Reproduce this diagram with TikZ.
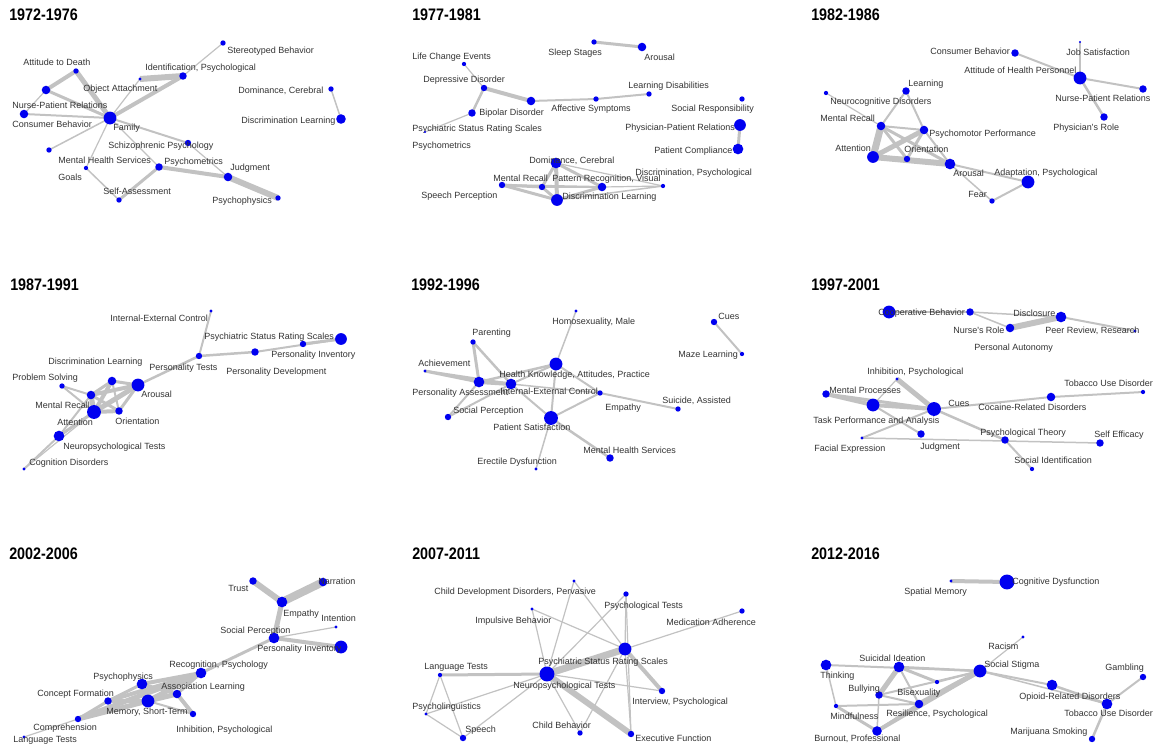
\documentclass[tikz,border=0pt]{standalone}
\usepackage{fontspec}
\newfontfamily\lblfont{Liberation Sans}
\newfontfamily\ttlfont[FakeStretch=0.86]{Liberation Sans}
\definecolor{edgegray}{HTML}{C2C2C2}
\definecolor{txtgray}{HTML}{333333}
\definecolor{dotblue}{HTML}{0000F0}
\pgfdeclarelayer{edges}
\pgfsetlayers{edges,main}
% vertex: name, x, y, radius (px), label x, label y, label text
\newcommand\vtxn[7]{%
  \node[vdot, minimum size={#4*1.6pt}] (#1) at (#2,#3) {};
  \node[vlbl] (#1-l) at (#5,#6) {#7};}
% connector: from, to, width (px)
\newcommand\cnx[3]{\draw[cn={#3}] (#1.center) -- (#2.center);}
\tikzset{
  vdot/.style={circle, fill=dotblue, draw=none, inner sep=0pt},
  vlbl/.style={anchor=west, inner sep=0pt, text=txtgray,
    font=\lblfont\fontsize{6.75}{8}\selectfont, text height=4.9pt, text depth=1.4pt},
  ptitle/.style={anchor=west, inner sep=0pt, text=black,
    font=\ttlfont\bfseries\fontsize{12.5}{14}\selectfont, text height=9pt, text depth=0pt},
  cn/.style={draw=edgegray, line width={#1*0.75pt}},
}
\begin{document}
\begin{tikzpicture}[x=0.75pt, y=-0.75pt]
\useasboundingbox (0,0) rectangle (1156,746);

% ---------- titles ----------
\node[ptitle] (t1) at (9,14.5) {1972-1976};
\node[ptitle] (t2) at (412,14.5) {1977-1981};
\node[ptitle] (t3) at (811,14.5) {1982-1986};
\node[ptitle] (t4) at (10,284) {1987-1991};
\node[ptitle] (t5) at (411,284) {1992-1996};
\node[ptitle] (t6) at (811,284) {1997-2001};
\node[ptitle] (t7) at (9,553) {2002-2006};
\node[ptitle] (t8) at (412,553) {2007-2011};
\node[ptitle] (t9) at (811,553) {2012-2016};

% ---------- 1972-1976 ----------
\vtxn{aSB}{223}{43}{2.5}{227}{51}{Stereotyped Behavior}
\vtxn{aIP}{183}{76}{3.5}{145}{68}{Identification, Psychological}
\vtxn{aOA}{140}{79}{1.5}{83}{89}{Object Attachment}
\vtxn{aAD}{76}{71}{2.5}{23}{63}{Attitude to Death}
\vtxn{aNP}{46}{90}{4}{12}{106}{Nurse-Patient Relations}
\vtxn{aCB}{24}{114}{4}{12}{125}{Consumer Behavior}
\vtxn{aFA}{110}{118}{6}{113}{128}{Family}
\vtxn{aGO}{49}{150}{2.5}{58}{178}{Goals}
\vtxn{aMH}{86}{168}{2}{58}{161}{Mental Health Services}
\vtxn{aSP}{188}{143}{3}{108}{146}{Schizophrenic Psychology}
\vtxn{aPM}{159}{167}{3.5}{164}{162}{Psychometrics}
\vtxn{aJU}{228}{177}{4}{230}{168}{Judgment}
\vtxn{aPP}{278}{198}{2.5}{212}{201}{Psychophysics}
\vtxn{aSA}{119}{200}{2.5}{103}{192}{Self-Assessment}
\vtxn{aDC}{331}{89}{2.5}{238}{91}{Dominance, Cerebral}
\vtxn{aDL}{341}{119}{4.5}{241}{121}{Discrimination Learning}

% ---------- 1977-1981 ----------
\vtxn{bSS}{594}{42}{2.5}{548}{53}{Sleep Stages}
\vtxn{bAR}{642}{47}{4}{644}{58}{Arousal}
\vtxn{bLC}{464}{64}{2}{412}{57}{Life Change Events}
\vtxn{bDD}{484}{88}{3}{423}{80}{Depressive Disorder}
\vtxn{bBD}{531}{101}{4}{479}{113}{Bipolar Disorder}
\vtxn{bPS}{472}{113}{3.5}{412}{129}{Psychiatric Status Rating Scales}
\vtxn{bPM}{425}{132}{1}{412}{146}{Psychometrics}
\vtxn{bAS}{596}{99}{2.5}{551}{109}{Affective Symptoms}
\vtxn{bLD}{649}{94}{2.5}{628}{86}{Learning Disabilities}
\vtxn{bSR}{742}{99}{2.5}{671}{109}{Social Responsibility}
\vtxn{bPR}{740}{125}{5.5}{625}{128}{Physician-Patient Relations}
\vtxn{bPC}{738}{149}{5}{654}{151}{Patient Compliance}
\vtxn{bDC}{556}{163}{5}{529}{161}{Dominance, Cerebral}
\vtxn{bMR}{542}{187}{3}{493}{179}{Mental Recall}
\vtxn{bPV}{602}{187}{4}{552}{179}{Pattern Recognition, Visual}
\vtxn{bDP}{663}{186}{2}{635}{173}{Discrimination, Psychological}
\vtxn{bSP}{502}{185}{3}{421}{196}{Speech Perception}
\vtxn{bDL}{557}{200}{5.5}{562}{197}{Discrimination Learning}

% ---------- 1982-1986 ----------
\vtxn{cCB}{1015}{53}{3.5}{930}{52}{Consumer Behavior}
\vtxn{cJS}{1080}{42}{1}{1066}{53}{Job Satisfaction}
\vtxn{cAH}{1080}{78}{6}{964}{71}{Attitude of Health Personnel}
\vtxn{cNP}{1143}{89}{3.5}{1055}{99}{Nurse-Patient Relations}
\vtxn{cPR}{1104}{117}{3.5}{1053}{128}{Physician's Role}
\vtxn{cLE}{906}{91}{3.5}{908}{84}{Learning}
\vtxn{cND}{826}{93}{2}{830}{102}{Neurocognitive Disorders}
\vtxn{cMR}{881}{126}{4}{820}{119}{Mental Recall}
\vtxn{cPP}{924}{130}{4}{929}{134}{Psychomotor Performance}
\vtxn{cAT}{873}{157}{5.5}{835}{149}{Attention}
\vtxn{cOR}{907}{159}{3}{904}{150}{Orientation}
\vtxn{cAR}{950}{164}{5}{953}{174}{Arousal}
\vtxn{cAP}{1028}{182}{6}{994}{173}{Adaptation, Psychological}
\vtxn{cFE}{992}{201}{2.5}{968}{195}{Fear}

% ---------- 1987-1991 ----------
\vtxn{dIE}{211}{311}{1.5}{110}{319}{Internal-External Control}
\vtxn{dPS}{341}{339}{5.5}{204}{337}{Psychiatric Status Rating Scales}
\vtxn{dPI}{303}{344}{3}{271}{355}{Personality Inventory}
\vtxn{dPD}{255}{352}{3.5}{226}{372}{Personality Development}
\vtxn{dPT}{199}{356}{3}{149}{368}{Personality Tests}
\vtxn{dAR}{138}{385}{6}{141}{395}{Arousal}
\vtxn{dDL}{112}{381}{4}{48}{362}{Discrimination Learning}
\vtxn{dPR}{62}{386}{2.5}{12}{378}{Problem Solving}
\vtxn{dMR}{91}{395}{4}{35}{406}{Mental Recall}
\vtxn{dAT}{94}{412}{6.5}{57}{423}{Attention}
\vtxn{dOR}{119}{411}{3.5}{115}{422}{Orientation}
\vtxn{dNT}{59}{436}{5}{63}{447}{Neuropsychological Tests}
\vtxn{dCD}{24}{469}{1.5}{29}{463}{Cognition Disorders}

% ---------- 1992-1996 ----------
\vtxn{eCU}{714}{322}{3}{718}{317}{Cues}
\vtxn{eML}{742}{354}{2}{678}{355}{Maze Learning}
\vtxn{eHM}{576}{311}{1.5}{552}{322}{Homosexuality, Male}
\vtxn{ePA}{473}{342}{2.5}{472}{333}{Parenting}
\vtxn{eAC}{425}{371}{1.5}{418}{364}{Achievement}
\vtxn{eHK}{556}{364}{6}{499}{375}{Health Knowledge, Attitudes, Practice}
\vtxn{ePS}{479}{382}{5}{412}{393}{Personality Assessment}
\vtxn{eIE}{511}{384}{5}{500}{392}{Internal-External Control}
\vtxn{eEM}{600}{393}{2.5}{605}{408}{Empathy}
\vtxn{eSA}{678}{409}{2.5}{662}{401}{Suicide, Assisted}
\vtxn{eSP}{448}{417}{3}{453}{411}{Social Perception}
\vtxn{ePT}{551}{418}{6.5}{493}{428}{Patient Satisfaction}
\vtxn{eMH}{610}{458}{3.5}{583}{451}{Mental Health Services}
\vtxn{eED}{536}{469}{1.5}{477}{462}{Erectile Dysfunction}

% ---------- 1997-2001 ----------
\vtxn{fCB}{889}{312}{6}{878}{313}{Cooperative Behavior}
\vtxn{fNR}{970}{312}{3.5}{953}{331}{Nurse's Role}
\vtxn{fPA}{1010}{328}{4}{974}{348}{Personal Autonomy}
\vtxn{fDI}{1061}{317}{5}{1013}{314}{Disclosure}
\vtxn{fPR}{1135}{331}{1.5}{1045}{331}{Peer Review, Research}
\vtxn{fIP}{897}{379}{1.5}{867}{372}{Inhibition, Psychological}
\vtxn{fMP}{826}{394}{3.5}{829}{391}{Mental Processes}
\vtxn{fTP}{873}{405}{6}{813}{421}{Task Performance and Analysis}
\vtxn{fCU}{934}{409}{6.5}{948}{404}{Cues}
\vtxn{fCR}{1051}{397}{4}{978}{408}{Cocaine-Related Disorders}
\vtxn{fTU}{1143}{392}{2}{1064}{384}{Tobacco Use Disorder}
\vtxn{fFE}{862}{438}{1.5}{814}{449}{Facial Expression}
\vtxn{fJU}{921}{434}{3.5}{920}{447}{Judgment}
\vtxn{fPT}{1005}{440}{3.5}{980}{433}{Psychological Theory}
\vtxn{fSE}{1100}{443}{3.5}{1094}{435}{Self Efficacy}
\vtxn{fSI}{1032}{469}{2}{1014}{461}{Social Identification}

% ---------- 2002-2006 ----------
\vtxn{gTR}{253}{581}{3.5}{228}{589}{Trust}
\vtxn{gNA}{323}{582}{4}{318}{582}{Narration}
\vtxn{gEM}{282}{602}{5}{283}{614}{Empathy}
\vtxn{gIN}{336}{627}{1.5}{321}{619}{Intention}
\vtxn{gSP}{274}{638}{5}{220}{631}{Social Perception}
\vtxn{gPI}{341}{647}{6}{257}{649}{Personality Inventory}
\vtxn{gRP}{201}{673}{5}{169}{665}{Recognition, Psychology}
\vtxn{gPP}{142}{684}{5}{93}{677}{Psychophysics}
\vtxn{gAL}{177}{694}{4}{161}{687}{Association Learning}
\vtxn{gCF}{108}{701}{3.5}{37}{694}{Concept Formation}
\vtxn{gMS}{148}{701}{6}{106}{712}{Memory, Short-Term}
\vtxn{gIP}{193}{714}{3}{176}{730}{Inhibition, Psychological}
\vtxn{gCO}{78}{719}{3}{33}{728}{Comprehension}
\vtxn{gLT}{24}{737}{1.5}{13}{740}{Language Tests}

% ---------- 2007-2011 ----------
\vtxn{hCD}{574}{581}{1.5}{434}{592}{Child Development Disorders, Pervasive}
\vtxn{hPT}{626}{594}{2.5}{604}{606}{Psychological Tests}
\vtxn{hMA}{742}{611}{2.5}{666}{623}{Medication Adherence}
\vtxn{hIB}{532}{609}{1.5}{475}{621}{Impulsive Behavior}
\vtxn{hPS}{625}{649}{6}{538}{662}{Psychiatric Status Rating Scales}
\vtxn{hNT}{547}{674}{7}{513}{686}{Neuropsychological Tests}
\vtxn{hLT}{440}{675}{2}{424}{667}{Language Tests}
\vtxn{hIP}{662}{691}{3}{632}{702}{Interview, Psychological}
\vtxn{hPL}{426}{714}{1.5}{412}{707}{Psycholinguistics}
\vtxn{hSP}{463}{738}{3}{465}{730}{Speech}
\vtxn{hCB}{580}{733}{2.5}{532}{726}{Child Behavior}
\vtxn{hEF}{631}{734}{3}{635}{739}{Executive Function}

% ---------- 2012-2016 ----------
\vtxn{iSM}{951}{581}{1.5}{904}{592}{Spatial Memory}
\vtxn{iCD}{1007}{582}{7}{1012}{582}{Cognitive Dysfunction}
\vtxn{iRA}{1023}{637}{1.5}{988}{647}{Racism}
\vtxn{iSS}{980}{671}{6}{984}{665}{Social Stigma}
\vtxn{iSU}{899}{667}{5}{859}{659}{Suicidal Ideation}
\vtxn{iTH}{826}{665}{5}{820}{676}{Thinking}
\vtxn{iGA}{1143}{677}{3}{1105}{668}{Gambling}
\vtxn{iBI}{937}{682}{2}{897}{693}{Bisexuality}
\vtxn{iBU}{879}{695}{3.5}{848}{689}{Bullying}
\vtxn{iOR}{1052}{685}{5}{1019}{697}{Opioid-Related Disorders}
\vtxn{iTU}{1107}{704}{5}{1064}{714}{Tobacco Use Disorder}
\vtxn{iMI}{836}{706}{2}{830}{717}{Mindfulness}
\vtxn{iRE}{919}{704}{4}{886}{714}{Resilience, Psychological}
\vtxn{iBO}{877}{731}{4.5}{814}{739}{Burnout, Professional}
\vtxn{iMS}{1092}{739}{3}{1010}{732}{Marijuana Smoking}

% ---------- connectors, kept under the vertices ----------
\begin{pgfonlayer}{edges}
% 1972-1976
\cnx{aSB}{aIP}{1.2} \cnx{aIP}{aFA}{4} \cnx{aOA}{aIP}{6} \cnx{aOA}{aFA}{1.2}
\cnx{aAD}{aFA}{5} \cnx{aAD}{aNP}{4} \cnx{aNP}{aFA}{3} \cnx{aNP}{aCB}{1.2}
\cnx{aCB}{aFA}{2} \cnx{aGO}{aFA}{1.5} \cnx{aMH}{aFA}{1.2} \cnx{aSP}{aFA}{2}
\cnx{aPM}{aFA}{1.2} \cnx{aSP}{aJU}{1.2} \cnx{aPM}{aJU}{4} \cnx{aJU}{aPP}{6}
\cnx{aPM}{aSA}{3} \cnx{aSA}{aMH}{1.5} \cnx{aDC}{aDL}{1.5}
% 1977-1981
\cnx{bSS}{bAR}{3} \cnx{bLC}{bDD}{1.2} \cnx{bDD}{bBD}{4} \cnx{bDD}{bPS}{2.5}
\cnx{bPS}{bPM}{1.2} \cnx{bBD}{bAS}{2} \cnx{bAS}{bLD}{2} \cnx{bPR}{bPC}{3}
\cnx{bSP}{bMR}{3} \cnx{bSP}{bDL}{3} \cnx{bSP}{bPV}{2} \cnx{bMR}{bDC}{3}
\cnx{bMR}{bDL}{3} \cnx{bMR}{bPV}{2} \cnx{bDC}{bDL}{4} \cnx{bDC}{bPV}{3}
\cnx{bPV}{bDL}{3} \cnx{bPV}{bDP}{1.2} \cnx{bDL}{bDP}{1.5} \cnx{bDC}{bDP}{1.2}
% 1982-1986
\cnx{cCB}{cAH}{2} \cnx{cJS}{cAH}{1.2} \cnx{cAH}{cNP}{2} \cnx{cAH}{cPR}{2.5}
\cnx{cND}{cMR}{1.2} \cnx{cLE}{cMR}{2} \cnx{cLE}{cPP}{2}
\cnx{cMR}{cPP}{2} \cnx{cMR}{cAT}{7} \cnx{cMR}{cOR}{3} \cnx{cMR}{cAR}{3}
\cnx{cAT}{cPP}{5} \cnx{cAT}{cOR}{4} \cnx{cAT}{cAR}{6} \cnx{cPP}{cOR}{3}
\cnx{cPP}{cAR}{2} \cnx{cOR}{cAR}{3} \cnx{cAR}{cAP}{2} \cnx{cAR}{cFE}{1.5}
\cnx{cFE}{cAP}{2}
% 1987-1991
\cnx{dIE}{dPT}{2} \cnx{dPT}{dAR}{2.5} \cnx{dPT}{dPD}{2.5} \cnx{dPD}{dPS}{2}
\cnx{dPI}{dPS}{3}
\cnx{dDL}{dMR}{3} \cnx{dDL}{dAT}{4} \cnx{dDL}{dAR}{3} \cnx{dDL}{dOR}{2}
\cnx{dMR}{dAT}{5} \cnx{dMR}{dAR}{4} \cnx{dMR}{dOR}{3} \cnx{dAT}{dAR}{5}
\cnx{dAT}{dOR}{4} \cnx{dOR}{dAR}{3} \cnx{dPR}{dMR}{2} \cnx{dPR}{dAT}{2}
\cnx{dNT}{dAT}{3} \cnx{dCD}{dNT}{2} \cnx{dCD}{dAT}{1.2} \cnx{dNT}{dMR}{2}
% 1992-1996
\cnx{eCU}{eML}{2} \cnx{eHM}{eHK}{1.5} \cnx{ePA}{ePS}{3} \cnx{ePA}{eIE}{2.5}
\cnx{eAC}{ePS}{3} \cnx{eAC}{eIE}{2.5} \cnx{ePS}{eIE}{4} \cnx{ePS}{eHK}{2.5}
\cnx{eIE}{eHK}{2} \cnx{ePS}{eSP}{2} \cnx{eSP}{eIE}{2} \cnx{eIE}{ePT}{2}
\cnx{eHK}{ePT}{2} \cnx{eHK}{eEM}{2} \cnx{ePT}{eEM}{2} \cnx{eEM}{eSA}{2}
\cnx{eIE}{eEM}{1.5} \cnx{ePT}{eMH}{2.5} \cnx{ePT}{eED}{1.5}
% 1997-2001
\cnx{fCB}{fNR}{1.5} \cnx{fNR}{fDI}{1.5} \cnx{fNR}{fPA}{1.5} \cnx{fPA}{fDI}{6}
\cnx{fDI}{fPR}{2}
\cnx{fMP}{fTP}{4} \cnx{fMP}{fCU}{3} \cnx{fTP}{fCU}{4} \cnx{fIP}{fCU}{5}
\cnx{fIP}{fTP}{1.2} \cnx{fCU}{fCR}{2} \cnx{fCR}{fTU}{2} \cnx{fCU}{fPT}{2.5}
\cnx{fTP}{fJU}{2} \cnx{fFE}{fCU}{2} \cnx{fFE}{fSE}{1.5} \cnx{fPT}{fSI}{2}
% 2002-2006
\cnx{gTR}{gEM}{6} \cnx{gNA}{gEM}{8} \cnx{gEM}{gSP}{5} \cnx{gSP}{gIN}{1.2}
\cnx{gSP}{gPI}{4} \cnx{gSP}{gRP}{3} \cnx{gRP}{gPP}{4} \cnx{gRP}{gMS}{5}
\cnx{gRP}{gCF}{4} \cnx{gRP}{gAL}{3} \cnx{gRP}{gCO}{5} \cnx{gPP}{gMS}{4}
\cnx{gPP}{gAL}{3} \cnx{gAL}{gMS}{5} \cnx{gAL}{gIP}{4} \cnx{gMS}{gIP}{2}
\cnx{gCF}{gMS}{4} \cnx{gCF}{gPP}{3} \cnx{gCO}{gMS}{5} \cnx{gCO}{gCF}{3}
\cnx{gCO}{gLT}{1.2}
% 2007-2011
\cnx{hNT}{hPS}{7} \cnx{hNT}{hEF}{6} \cnx{hPS}{hIP}{4} \cnx{hNT}{hLT}{3}
\cnx{hNT}{hIP}{1.2} \cnx{hNT}{hCD}{1.2} \cnx{hNT}{hIB}{1.2} \cnx{hNT}{hPT}{1.2}
\cnx{hNT}{hCB}{1.2} \cnx{hNT}{hSP}{1.2} \cnx{hNT}{hPL}{1.2} \cnx{hPS}{hCD}{1.2}
\cnx{hPS}{hPT}{1.2} \cnx{hPS}{hMA}{1.2} \cnx{hPS}{hIB}{1.2} \cnx{hPS}{hEF}{1.2}
\cnx{hPS}{hCB}{1.2} \cnx{hLT}{hPL}{1.2} \cnx{hLT}{hSP}{1.2} \cnx{hPL}{hSP}{1.2}
\cnx{hPT}{hEF}{1.2}
% 2012-2016
\cnx{iSM}{iCD}{4} \cnx{iRA}{iSS}{1.2} \cnx{iTH}{iSS}{2} \cnx{iSU}{iSS}{2.5}
\cnx{iSU}{iBU}{5} \cnx{iSU}{iBI}{3} \cnx{iSU}{iRE}{2} \cnx{iSS}{iBI}{2}
\cnx{iSS}{iRE}{5} \cnx{iSS}{iBU}{2} \cnx{iSS}{iOR}{2} \cnx{iOR}{iTU}{2.5}
\cnx{iSS}{iTU}{1.5} \cnx{iGA}{iTU}{2} \cnx{iTU}{iMS}{2.5} \cnx{iTH}{iMI}{1.5}
\cnx{iMI}{iBO}{3} \cnx{iMI}{iRE}{2} \cnx{iBU}{iBO}{1.5} \cnx{iBO}{iRE}{3}
\cnx{iBO}{iSS}{4} \cnx{iBU}{iRE}{2}
\end{pgfonlayer}
\end{tikzpicture}
\end{document}
